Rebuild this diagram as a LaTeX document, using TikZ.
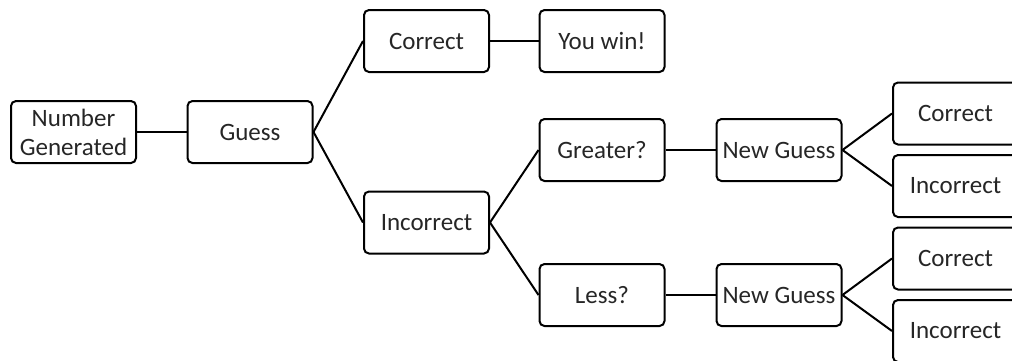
\documentclass[tikz,border=0pt]{standalone}
\usepackage{fontspec}
\setmainfont{Carlito}
\begin{document}
\begin{tikzpicture}[x=1pt,y=-1pt,
  box/.style={draw=black, line width=2pt, rounded corners=5pt, minimum width=125pt, minimum height=62pt, inner sep=0pt, align=center, font=\fontsize{25}{29}\selectfont, text=black!85},
  link/.style={draw=black, line width=2pt}]
\clip (0,0) rectangle (1012,360);
\node[box] (ng) at (73.5,132) {Number\\Generated};
\node[box] (guess) at (250,132) {Guess};
\node[box] (c1) at (426.5,41) {Correct};
\node[box] (win) at (602,41) {You win!};
\node[box] (inc) at (426.5,222.5) {Incorrect};
\node[box] (gr) at (602,150) {Greater?};
\node[box] (ls) at (602,295) {Less?};
\node[box] (ng1) at (779,150) {New Guess};
\node[box] (ng2) at (779,295) {New Guess};
\node[box] (rc1) at (955.5,113.5) {Correct};
\node[box] (ri1) at (955.5,186) {Incorrect};
\node[box] (rc2) at (955.5,258.5) {Correct};
\node[box] (ri2) at (955.5,331) {Incorrect};
\draw[link] (ng.east) -- (guess.west);
\draw[link] (guess.east) -- (c1.west);
\draw[link] (guess.east) -- (inc.west);
\draw[link] (c1.east) -- (win.west);
\draw[link] (inc.east) -- (gr.west);
\draw[link] (inc.east) -- (ls.west);
\draw[link] (gr.east) -- (ng1.west);
\draw[link] (ls.east) -- (ng2.west);
\draw[link] (ng1.east) -- (rc1.west);
\draw[link] (ng1.east) -- (ri1.west);
\draw[link] (ng2.east) -- (rc2.west);
\draw[link] (ng2.east) -- (ri2.west);
\end{tikzpicture}
\end{document}
